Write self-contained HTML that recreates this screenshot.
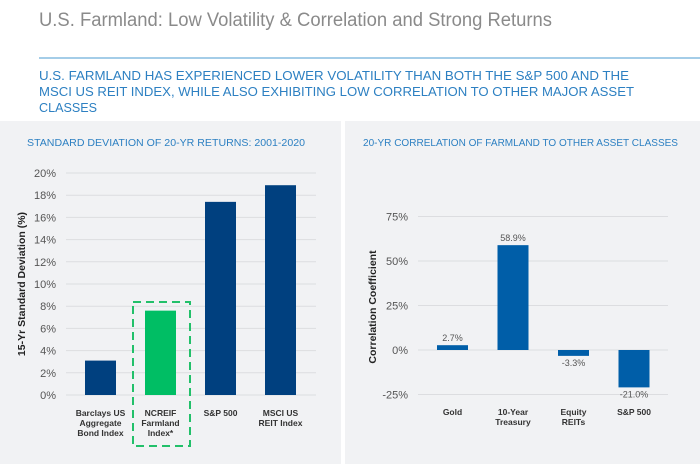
<!DOCTYPE html>
<html><head><meta charset="utf-8"><style>
html,body{margin:0;padding:0;background:#fff;}
svg{display:block;font-family:"Liberation Sans",sans-serif;}
</style></head><body>
<svg id="c" width="700" height="464" viewBox="0 0 700 464">
<rect x="0" y="0" width="700" height="464" fill="#fff"/>
<text x="39" y="26" font-size="19" fill="#8a8a8a" textLength="513" lengthAdjust="spacingAndGlyphs">U.S. Farmland: Low Volatility &amp; Correlation and Strong Returns</text>
<line x1="39" y1="58" x2="700" y2="58" stroke="#4a9bd0" stroke-width="1"/>
<g fill="#2d80c2" font-size="12.5">
<text x="39" y="80" textLength="590" lengthAdjust="spacingAndGlyphs">U.S. FARMLAND HAS EXPERIENCED LOWER VOLATILITY THAN BOTH THE S&amp;P 500 AND THE</text>
<text x="39" y="96" textLength="595" lengthAdjust="spacingAndGlyphs">MSCI US REIT INDEX, WHILE ALSO EXHIBITING LOW CORRELATION TO OTHER MAJOR ASSET</text>
<text x="39" y="112" textLength="58" lengthAdjust="spacingAndGlyphs">CLASSES</text>
</g>
<rect x="0" y="121" width="341" height="343" fill="#f1f2f4"/>
<rect x="345" y="121" width="355" height="343" fill="#f1f2f4"/>
<text x="27" y="146" font-size="10" fill="#2d80c2" textLength="278" lengthAdjust="spacingAndGlyphs">STANDARD DEVIATION OF 20-YR RETURNS: 2001-2020</text>
<text x="363" y="146" font-size="10" fill="#2d80c2" textLength="315" lengthAdjust="spacingAndGlyphs">20-YR CORRELATION OF FARMLAND TO OTHER ASSET CLASSES</text>
<g id="left"></g>
<g id="right"></g>
</svg>
<script>
const leftCats=[["Barclays US","Aggregate","Bond Index"],["NCREIF","Farmland","Index*"],["S&P 500"],["MSCI US","REIT Index"]];
const leftVals=[3.1,7.6,17.4,18.9];
const leftTicks=[0,2,4,6,8,10,12,14,16,18,20];
const rightCats=[["Gold"],["10-Year","Treasury"],["Equity","REITs"],["S&P 500"]];
const rightVals=[2.7,58.9,-3.3,-21.0];
const rightTicks=[-25,0,25,50,75];
const NS="http://www.w3.org/2000/svg";
function mk(p,t,a){const e=document.createElementNS(NS,t);for(const k in a)e.setAttribute(k,a[k]);p.appendChild(e);return e;}
// left chart
const L=document.getElementById('left');
const ly=v=>395-(v/20)*222;
const lx=i=>100.5+i*60;
leftTicks.forEach(t=>{
  const g=mk(L,'line',{x1:66,x2:316,y1:ly(t),y2:ly(t),stroke:'#dcdde0','stroke-width':1});
  
  
  const tx=mk(L,'text',{x:56,y:ly(t)+4,'font-size':11,fill:'#555','text-anchor':'end'});
  tx.textContent=t+'%';
  
  
});
leftVals.forEach((v,i)=>{
  const r=mk(L,'rect',{x:lx(i)-15.5,y:ly(v),width:31,height:ly(0)-ly(v),fill:i===1?'#00be64':'#00407f'});
  
  
  leftCats[i].forEach((s,j)=>{
    const t=mk(L,'text',{x:lx(i),y:416+j*10,'font-size':8.5,'font-weight':'bold',fill:'#333','text-anchor':'middle'});
    t.textContent=s;
    
    
  });
});
const box=mk(L,'rect',{x:lx(1)-27.5,y:302,width:57,height:144,fill:'none',stroke:'#22c06a','stroke-width':2,'stroke-dasharray':'8,5'});


const lt=mk(L,'text',{transform:'translate(25,284) rotate(-90)','font-size':10.5,'font-weight':'bold',fill:'#222','text-anchor':'middle'});
lt.textContent='15-Yr Standard Deviation (%)';


// right chart
const R=document.getElementById('right');
const ry=v=>350-(v/25)*44.5;
const rx=i=>452.5+i*60.5;
rightTicks.forEach(t=>{
  const g=mk(R,'line',{x1:418,x2:668,y1:ry(t),y2:ry(t),stroke:'#dcdde0','stroke-width':1});
  
  
  const tx=mk(R,'text',{x:408,y:ry(t)+4,'font-size':11,fill:'#555','text-anchor':'end'});
  tx.textContent=t+'%';
  
  
});
rightVals.forEach((v,i)=>{
  const top=Math.min(ry(v),ry(0)),h=Math.abs(ry(v)-ry(0));
  const r=mk(R,'rect',{x:rx(i)-15.5,y:top,width:31,height:h,fill:'#005ea8'});
  
  
  const lb=mk(R,'text',{x:rx(i),y:v>=0?ry(v)-4:ry(v)+10,'font-size':9,fill:'#555','text-anchor':'middle'});
  lb.textContent=v.toFixed(1)+'%';
  
  
  rightCats[i].forEach((s,j)=>{
    const t=mk(R,'text',{x:rx(i),y:415+j*10,'font-size':8.5,'font-weight':'bold',fill:'#333','text-anchor':'middle'});
    t.textContent=s;
    
    
  });
});
const rt=mk(R,'text',{transform:'translate(376,307) rotate(-90)','font-size':10.5,'font-weight':'bold',fill:'#222','text-anchor':'middle'});
rt.textContent='Correlation Coefficient';


</script>
</body></html>
